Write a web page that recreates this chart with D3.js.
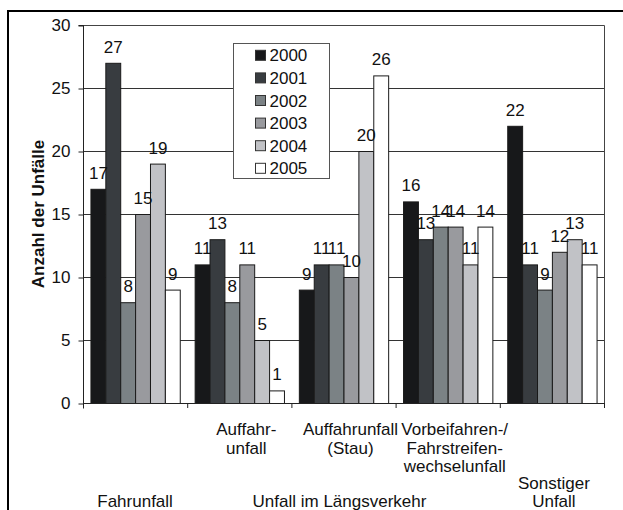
<!DOCTYPE html>
<html>
<head>
<meta charset="utf-8">
<script src="https://cdn.jsdelivr.net/npm/d3@7"></script>
<style>
  html, body { margin: 0; padding: 0; background: #fff; }
  svg { display: block; font-family: "Liberation Sans", Arial, sans-serif; }
</style>
</head>
<body>
<svg id="chart" width="623" height="510"></svg>
<script>
// Unfallarten (Kategorien) und Jahre (Reihen)
const categories = ["Fahrunfall", "Auffahrunfall", "Auffahrunfall (Stau)", "Vorbeifahren-/Fahrstreifenwechselunfall", "Sonstiger Unfall"];
const years = ["2000", "2001", "2002", "2003", "2004", "2005"];

// Anzahl der Unfälle je Jahr, in der Reihenfolge der Kategorien
const v2000 = [17, 11, 9, 16, 22];
const v2001 = [27, 13, 11, 13, 11];
const v2002 = [8, 8, 11, 14, 9];
const v2003 = [15, 11, 10, 14, 12];
const v2004 = [19, 5, 20, 11, 13];
const v2005 = [9, 1, 26, 14, 11];

const yTicks = [0, 5, 10, 15, 20, 25, 30];

// Beschriftungen der Kategorieachse (zweizeilig gruppiert)
const subLabels = [[], ["Auffahr-", "unfall"], ["Auffahrunfall", "(Stau)"], ["Vorbeifahren-/", "Fahrstreifen-", "wechselunfall"], []];
const groupLabels = [
  { lines: ["Fahrunfall"], first: 0, last: 0 },
  { lines: ["Unfall im Längsverkehr"], first: 1, last: 3 },
  { lines: ["Sonstiger", "Unfall"], first: 4, last: 4 }
];

const yTitle = "Anzahl der Unfälle";

const seriesValues = [v2000, v2001, v2002, v2003, v2004, v2005];
const colors = ["#17181a", "#383c40", "#7b8285", "#999a9e", "#c1c2c6", "#ffffff"];

const svg = d3.select("#chart");
const plot = { left: 83, right: 604, top: 25, bottom: 403 };
const fontSize = 17;

// äußerer Rahmen
svg.append("path")
  .attr("d", `M8,520 L8,11 L630,11`)
  .attr("fill", "none").attr("stroke", "#000").attr("stroke-width", 2);

const x0 = d3.scaleBand().domain(categories).range([plot.left, plot.right]).padding(0);
const bw = x0.bandwidth();
const barW = bw / 7;
const x1 = d3.scaleBand().domain(years)
  .range([(bw - barW * 6) / 2, (bw + barW * 6) / 2]).padding(0);
const y = d3.scaleLinear().domain([0, 30]).range([plot.bottom, plot.top]);

// Gitterlinien
svg.append("g").selectAll("line").data(yTicks.filter(t => t > 0 && t < 30)).join("line")
  .attr("x1", plot.left).attr("x2", plot.right)
  .attr("y1", d => y(d) + 0.5).attr("y2", d => y(d) + 0.5)
  .attr("stroke", "#333").attr("stroke-width", 1);

// Rahmen des Diagrammbereichs (oben, rechts)
svg.append("path")
  .attr("d", `M${plot.left},${plot.top + 0.5} L${plot.right + 0.5},${plot.top + 0.5} L${plot.right + 0.5},${plot.bottom + 5}`)
  .attr("fill", "none").attr("stroke", "#444").attr("stroke-width", 1);

// Balken
const groups = svg.append("g").selectAll("g").data(categories).join("g")
  .attr("transform", d => `translate(${x0(d)},0)`);

groups.selectAll("rect")
  .data((c, ci) => years.map((yr, si) => ({ yr, si, v: seriesValues[si][ci] })))
  .join("rect")
  .attr("x", d => x1(d.yr) + 0.5)
  .attr("y", d => y(d.v) + 0.5)
  .attr("width", barW)
  .attr("height", d => y(0) - y(d.v))
  .attr("fill", d => colors[d.si])
  .attr("stroke", "#1a1a1a").attr("stroke-width", 1);

// Wertebeschriftungen
groups.selectAll("text")
  .data((c, ci) => years.map((yr, si) => ({ yr, si, v: seriesValues[si][ci] })))
  .join("text")
  .attr("x", d => x1(d.yr) + barW / 2 + 0.5)
  .attr("y", d => y(d.v) - 10)
  .attr("text-anchor", "middle")
  .attr("font-size", fontSize).attr("fill", "#111")
  .text(d => d.v);

// y-Achse
const yAxis = d3.axisLeft(y).tickValues(yTicks).tickSize(5).tickPadding(8);
const gy = svg.append("g").attr("transform", `translate(${plot.left + 0.5},0.5)`).call(yAxis);
gy.select(".domain").attr("stroke", "#222").attr("d", `M-5,${plot.top} H0 V${plot.bottom + 5}`);
gy.selectAll(".tick line").attr("stroke", "#222");
gy.selectAll(".tick text").attr("font-size", fontSize).attr("fill", "#111")
  .attr("font-family", "Liberation Sans, Arial, sans-serif");

// x-Achse mit Kategoriegrenzen als Striche
svg.append("line")
  .attr("x1", plot.left).attr("x2", plot.right + 0.5)
  .attr("y1", plot.bottom + 0.5).attr("y2", plot.bottom + 0.5)
  .attr("stroke", "#222");
svg.append("g").selectAll("line").data(categories).join("line")
  .attr("x1", d => x0(d) + bw + 0.5).attr("x2", d => x0(d) + bw + 0.5)
  .attr("y1", plot.bottom).attr("y2", plot.bottom + 5)
  .attr("stroke", "#222");

// Unterkategorien (erste Zeile unter der Achse)
const subG = svg.append("g").attr("font-size", fontSize).attr("fill", "#111").attr("text-anchor", "middle");
categories.forEach((c, ci) => {
  subLabels[ci].forEach((line, li) => {
    subG.append("text")
      .attr("x", x0(c) + bw / 2 + 7)
      .attr("y", 435 + li * 18.5)
      .text(line);
  });
});

// Oberkategorien (untere Zeile)
groupLabels.forEach(g => {
  const cx = (x0(categories[g.first]) + x0(categories[g.last]) + bw) / 2;
  g.lines.forEach((line, li) => {
    subG.append("text")
      .attr("x", cx + (g.first === g.last && g.first > 0 ? 2 : 0) - (g.first !== g.last ? 4 : 0))
      .attr("y", 507 - (g.lines.length - 1 - li) * 18.5)
      .text(line);
  });
});

// y-Achsentitel
svg.append("text")
  .attr("transform", `translate(44,${(plot.top + plot.bottom) / 2}) rotate(-90)`)
  .attr("text-anchor", "middle")
  .attr("font-size", fontSize).attr("font-weight", "bold").attr("fill", "#111")
  .text(yTitle);

// Legende
const legend = svg.append("g").attr("transform", "translate(233.5,43.5)");
legend.append("rect").attr("width", 96).attr("height", 135)
  .attr("fill", "#fff").attr("stroke", "#555").attr("stroke-width", 1);
const li = legend.selectAll("g").data(years).join("g")
  .attr("transform", (d, i) => `translate(22,${11.8 + i * 22.6})`);
li.append("rect").attr("x", 0).attr("y", -5).attr("width", 10).attr("height", 10)
  .attr("fill", (d, i) => colors[i]).attr("stroke", "#333").attr("stroke-width", 1);
li.append("text").attr("x", 14).attr("y", 6)
  .attr("font-size", fontSize).attr("fill", "#111").text(d => d);
</script>
</body>
</html>
